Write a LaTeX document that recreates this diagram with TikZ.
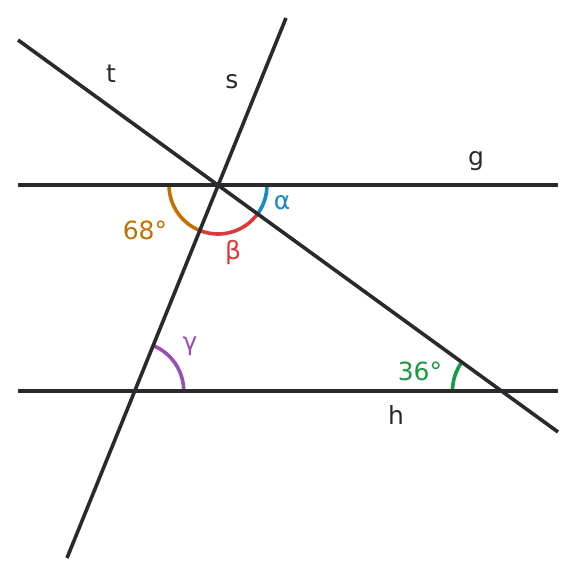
\documentclass[tikz,border=0pt]{standalone}
\usepackage{fontspec}
\setmainfont{DejaVu Sans}
\definecolor{ink}{HTML}{2A2A2E}
\definecolor{aorange}{HTML}{C47000}
\definecolor{ared}{HTML}{D93A3A}
\definecolor{ablue}{HTML}{168AC4}
\definecolor{apurple}{HTML}{9A4FB8}
\definecolor{agreen}{HTML}{1A9944}
\tikzset{
  geoline/.style={draw=ink, line width=3.6pt},
  anglearc/.style={line width=3.6pt},
  lbl/.style={inner sep=0pt, font=\fontsize{25}{30}\selectfont},
}
\begin{document}
\begin{tikzpicture}[x=1pt,y=1pt]
\useasboundingbox (0,0) rectangle (576,576);
% points
\coordinate (P) at (218,391);
\coordinate (Q) at (134.7,185);
\coordinate (R) at (501.5,185);
\coordinate (gL) at (18,391);
\coordinate (gR) at (558,391);
\coordinate (hL) at (18,185);
\coordinate (hR) at (558,185);
\coordinate (sT) at (286,558);
\coordinate (sB) at (67,18);
\coordinate (tT) at (18,536);
\coordinate (tB) at (558,144);
% angle arcs
\draw[anglearc, aorange] ([shift={(180:49)}]P) arc[start angle=180, end angle=248, radius=49];
\draw[anglearc, ared] ([shift={(248:49)}]P) arc[start angle=248, end angle=324, radius=49];
\draw[anglearc, ablue] ([shift={(324:49)}]P) arc[start angle=324, end angle=360, radius=49];
\draw[anglearc, apurple] ([shift={(0:49)}]Q) arc[start angle=0, end angle=68, radius=49];
\draw[anglearc, agreen] ([shift={(144:49)}]R) arc[start angle=144, end angle=180, radius=49];
% lines
\draw[geoline] (gL) -- (gR);
\draw[geoline] (hL) -- (hR);
\draw[geoline] (sT) -- (sB);
\draw[geoline] (tT) -- (tB);
% labels
\node[lbl, text=ink] (lt) at (111,502) {t};
\node[lbl, text=ink] (ls) at (232,494) {s};
\node[lbl, text=ink] (lg) at (476,415) {g};
\node[lbl, text=ink] (lh) at (396,161) {h};
\node[lbl, text=ablue] (la) at (282,373) {α};
\node[lbl, text=ared] (lb) at (233,323) {β};
\node[lbl, text=aorange] (l68) at (145,346) {68°};
\node[lbl, text=apurple] (lc) at (190,230) {γ};
\node[lbl, text=agreen] (l36) at (420,205) {36°};
\end{tikzpicture}
\end{document}
